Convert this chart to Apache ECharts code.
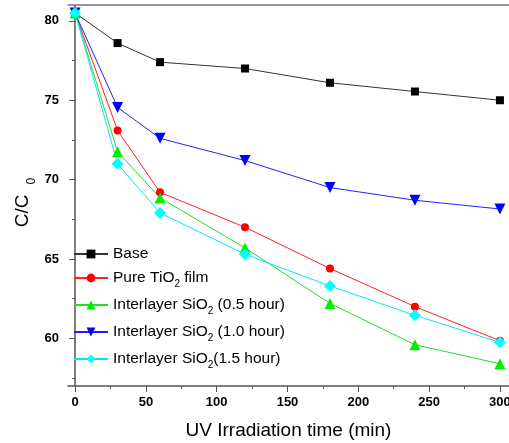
<!DOCTYPE html>
<html>
<head>
<meta charset="utf-8">
<script src="https://cdn.jsdelivr.net/npm/echarts@6/dist/echarts.min.js"></script>
<style>
  html, body { margin: 0; padding: 0; background: #fff; }
  #main { width: 509px; height: 443px; }
</style>
</head>
<body>
<div id="main"></div>
<script>
// irradiation times (min)
var times = [0, 30, 60, 120, 180, 240, 300];

// C/C0 values
var base = [80.5, 78.6, 77.4, 77.0, 76.1, 75.55, 75.0];
var pureTiO2 = [80.5, 73.1, 69.2, 67.0, 64.4, 62.0, 59.85];
var sio2_05 = [80.5, 71.75, 68.85, 65.7, 62.2, 59.6, 58.4];
var sio2_10 = [80.5, 74.55, 72.6, 71.2, 69.5, 68.7, 68.15];
var sio2_15 = [80.5, 71.0, 67.9, 65.3, 63.3, 61.45, 59.75];

var xTicks = [0, 50, 100, 150, 200, 250, 300];
var xMinor = [25, 75, 125, 175, 225, 275];
var yTicks = [60, 65, 70, 75, 80];
var yMinor = [57.5, 62.5, 67.5, 72.5, 77.5];

var names = [
  "Base",
  "Pure TiO2 film",
  "Interlayer SiO2 (0.5 hour)",
  "Interlayer SiO2 (1.0 hour)",
  "Interlayer SiO2(1.5 hour)"
];

function pairs(arr) {
  return times.map(function (t, i) { return [t, arr[i]]; });
}

var font = "Liberation Sans, Arial, sans-serif";
var tickFont = "Liberation Sans Narrow, Liberation Sans, Arial, sans-serif";
var axisColor = "#555";

var myChart = echarts.init(document.getElementById("main"));

var option = {
  animation: false,
  textStyle: { fontFamily: font },
  grid: { left: 68, top: 5, right: 0, bottom: 57, outerBoundsMode: "none" },
  xAxis: [
    {
      type: "value",
      min: -5,
      max: 306.4,
      name: "UV Irradiation time (min)",
      nameLocation: "middle",
      nameGap: 35,
      nameMoveOverlap: false,
      nameTextStyle: { fontSize: 19, color: "#000", fontFamily: font },
      axisLine: { show: true, lineStyle: { color: axisColor, width: 1.5 } },
      axisTick: { show: true, customValues: xTicks, length: 6, inside: false, lineStyle: { color: axisColor } },
      axisLabel: { customValues: xTicks, fontSize: 13, fontWeight: "bold", color: "#000", margin: 10, fontFamily: tickFont },
      splitLine: { show: false }
    },
    {
      type: "value",
      min: -5,
      max: 306.4,
      position: "bottom",
      axisLine: { show: false },
      axisTick: { show: true, customValues: xMinor, length: 3, lineStyle: { color: axisColor } },
      axisLabel: { show: false },
      splitLine: { show: false }
    },
    {
      type: "value",
      min: -5,
      max: 306.4,
      position: "top",
      axisLine: { show: true, lineStyle: { color: "#777", width: 1.5 } },
      axisTick: { show: false },
      axisLabel: { show: false },
      splitLine: { show: false }
    }
  ],
  yAxis: [
    {
      type: "value",
      min: 57,
      max: 81,
      name: "C/C{sub|0}",
      nameLocation: "middle",
      nameGap: 30,
      nameRotate: 90,
      nameMoveOverlap: false,
      nameTextStyle: {
        fontSize: 19,
        color: "#000",
        fontFamily: font,
        padding: [0, 14, 0, 0],
        rich: {
          sub: { fontSize: 12, padding: [19, 0, 0, 10], fontFamily: font }
        }
      },
      axisLine: { show: true, lineStyle: { color: axisColor, width: 1.5 } },
      axisTick: { show: true, customValues: yTicks, length: 6, lineStyle: { color: axisColor } },
      axisLabel: { customValues: yTicks, fontSize: 13, fontWeight: "bold", color: "#000", margin: 9, fontFamily: tickFont },
      splitLine: { show: false }
    },
    {
      type: "value",
      min: 57,
      max: 81,
      position: "left",
      axisLine: { show: false },
      axisTick: { show: true, customValues: yMinor, length: 3, lineStyle: { color: axisColor } },
      axisLabel: { show: false },
      splitLine: { show: false }
    }
  ],
  legend: {
    orient: "vertical",
    left: 73,
    top: 246,
    padding: 0,
    itemWidth: 34,
    itemHeight: 11,
    itemGap: 8,
    textStyle: {
      fontSize: 15.5,
      color: "#000",
      fontFamily: font,
      rich: {
        sub: { fontSize: 10, padding: [12, 0, 0, 0], fontFamily: font }
      }
    },
    formatter: function (name) {
      return name.replace(/O2/, "O{sub|2}");
    },
    data: names
  },
  series: [
    {
      name: names[0], type: "line", data: pairs(base),
      symbol: "rect", symbolSize: 8,
      lineStyle: { color: "#333", width: 1 }, itemStyle: { color: "#000" }
    },
    {
      name: names[1], type: "line", data: pairs(pureTiO2),
      symbol: "circle", symbolSize: 8,
      lineStyle: { color: "#ff2020", width: 1 }, itemStyle: { color: "#ff0000" }
    },
    {
      name: names[2], type: "line", data: pairs(sio2_05),
      symbol: "triangle", symbolSize: 11,
      lineStyle: { color: "#22dd22", width: 1 }, itemStyle: { color: "#00ee00" }
    },
    {
      name: names[3], type: "line", data: pairs(sio2_10),
      symbol: "triangle", symbolRotate: 180, symbolSize: 11,
      lineStyle: { color: "#2020ff", width: 1 }, itemStyle: { color: "#0000ff" }
    },
    {
      name: names[4], type: "line", data: pairs(sio2_15),
      symbol: "diamond", symbolSize: 12,
      lineStyle: { color: "#00e5ff", width: 1 }, itemStyle: { color: "#00ffff" }
    }
  ]
};

myChart.setOption(option);
</script>
</body>
</html>
